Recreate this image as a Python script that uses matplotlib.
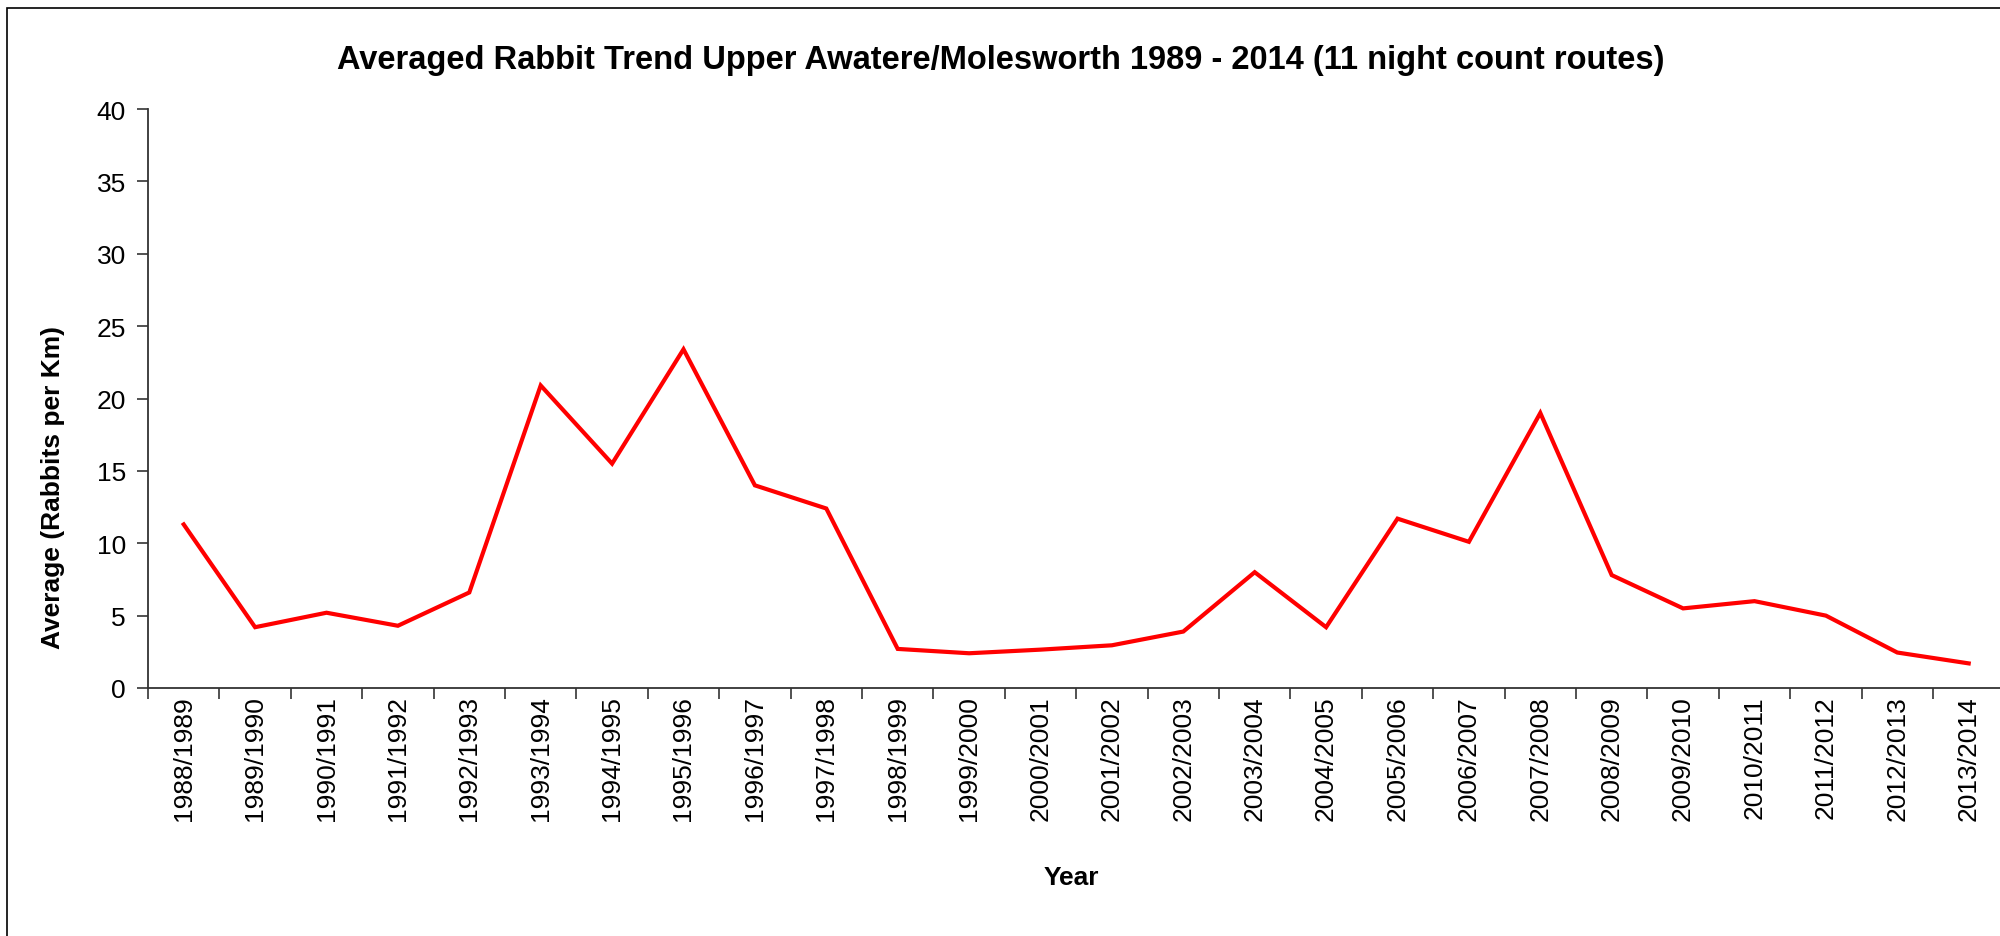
import numpy as np
import matplotlib.pyplot as plt
from matplotlib.patches import Rectangle

plt.rcParams['font.family'] = ['Liberation Sans', 'DejaVu Sans']

# seasons and average rabbits per km
seasons = ['1988/1989', '1989/1990', '1990/1991', '1991/1992', '1992/1993',
           '1993/1994', '1994/1995', '1995/1996', '1996/1997', '1997/1998',
           '1998/1999', '1999/2000', '2000/2001', '2001/2002', '2002/2003',
           '2003/2004', '2004/2005', '2005/2006', '2006/2007', '2007/2008',
           '2008/2009', '2009/2010', '2010/2011', '2011/2012', '2012/2013',
           '2013/2014']
average = [11.3, 4.2, 5.2, 4.3, 6.6, 20.9, 15.5, 23.4, 14.0, 12.4,
           2.7, 2.4, 2.65, 2.95, 3.9, 8.0, 4.2, 11.7, 10.1, 19.0,
           7.8, 5.5, 6.0, 5.0, 2.45, 1.7]
y_ticks = [0, 5, 10, 15, 20, 25, 30, 35, 40]

W, H = 2000, 937
fig = plt.figure(figsize=(20, 9.37), dpi=100)
# plot area: left 148px, top 110px, bottom 689px, runs past right edge
ax = fig.add_axes([148 / W, (H - 689) / H, 1856.4 / W, (689 - 110) / H])

x = np.arange(len(seasons))
ax.plot(x, average, color='#ff0000', linewidth=3.0, solid_joinstyle='miter')

ax.set_xlim(-0.5, len(seasons) - 0.5)
ax.set_ylim(0, 40)
ax.set_yticks(y_ticks)
ax.set_xticks(x)
ax.set_xticklabels(seasons, rotation=90, fontsize=19)
ax.set_xticks(np.arange(len(seasons) + 1) - 0.5, minor=True)
ax.tick_params(axis='x', which='major', length=0, pad=5)
ax.tick_params(axis='x', which='minor', length=8, width=1.2, color='#333333')
ax.tick_params(axis='y', labelsize=19, length=8, width=1.2, color='#333333', pad=8)

for s in ['top', 'right']:
    ax.spines[s].set_visible(False)
for s in ['left', 'bottom']:
    ax.spines[s].set_linewidth(1.3)
    ax.spines[s].set_color('#333333')

# axis title sits a bit below the middle of the plot, like the original
ax.set_ylabel('Average (Rabbits per Km)', fontsize=19, fontweight='bold')
ax.yaxis.set_label_coords((65 - 148) / 1856.4, 0.348)
fig.text(1071 / W, 1 - 878 / H, 'Year', fontsize=19, fontweight='bold',
         ha='center', va='center')
fig.text(1001 / W, 1 - 61 / H,
         'Averaged Rabbit Trend Upper Awatere/Molesworth 1989 - 2014 (11 night count routes)',
         fontsize=23.5, fontweight='bold', ha='center', va='center')

# chart frame, cut off on the right and bottom
fig.patches.append(Rectangle((7 / W, -0.1), 1.1, 1 - 9 / H + 0.1,
                             transform=fig.transFigure, fill=False,
                             edgecolor='black', linewidth=1.2))

fig.savefig('out.png', dpi=100)
